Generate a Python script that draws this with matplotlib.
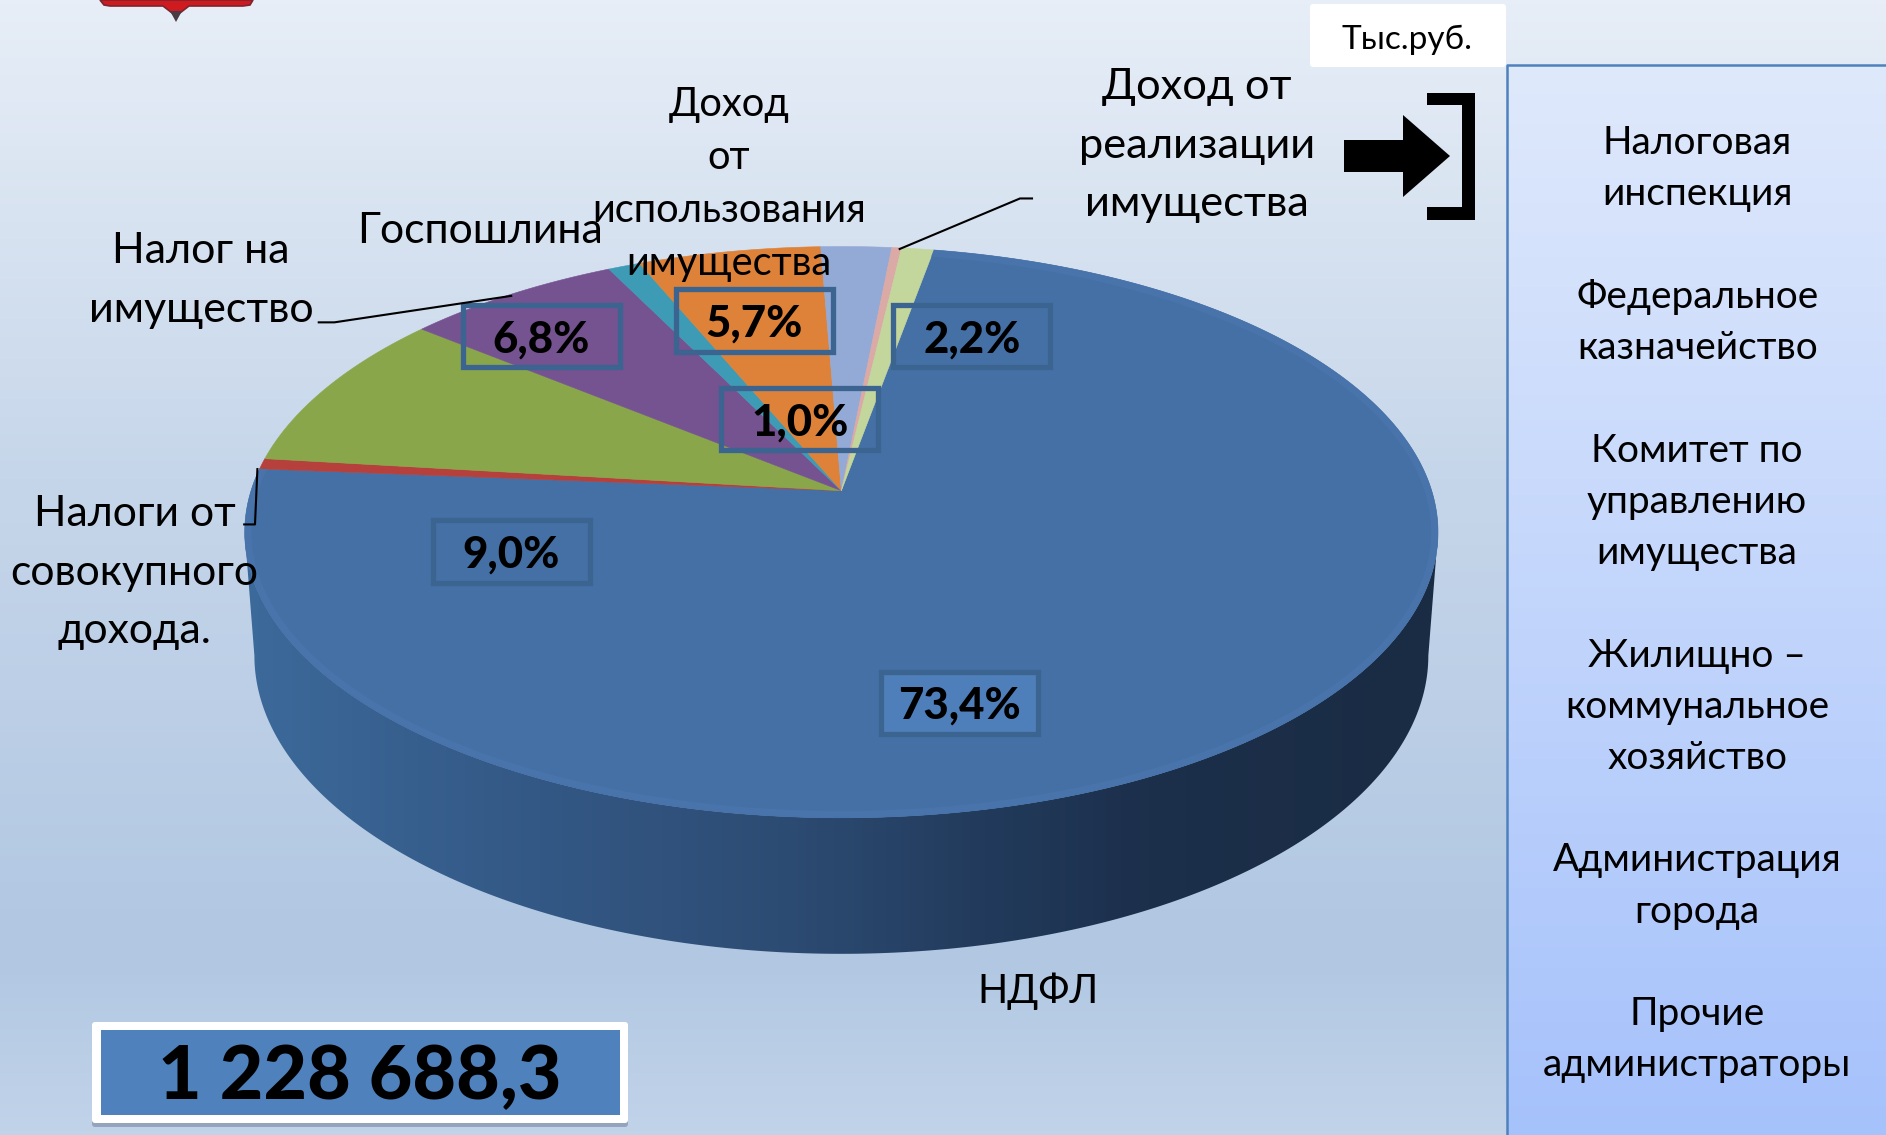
import numpy as np
import matplotlib
matplotlib.use("Agg")
import matplotlib.pyplot as plt
from matplotlib.patches import Polygon, Rectangle, FancyBboxPatch
from matplotlib.colors import LinearSegmentedColormap

plt.rcParams['font.family'] = ['Lato', 'Noto Sans', 'DejaVu Sans']

# -----------------------------------------------
# DATA
# -----------------------------------------------
shares = [73.4, 0.6, 9.0, 6.8, 1.0, 5.7, 2.2, 0.3, 1.0]
colors = ["#4570a5", "#b5403c", "#8aa64a", "#755290", "#3d9bb5", "#dd8238", "#93a9d6", "#dba9a6", "#c3d69b"]

pct_labels = ["73,4%", "2,2%", "1,0%", "5,7%", "6,8%", "9,0%"]
total_label = "1 228 688,3"
unit_label = "Тыс.руб."
admins = ["Налоговая", "инспекция", "",
          "Федеральное", "казначейство", "",
          "Комитет по", "управлению", "имущества", "",
          "Жилищно –", "коммунальное", "хозяйство", "",
          "Администрация", "города", "",
          "Прочие", "администраторы"]

# -----------------------------------------------
# GEOMETRY (pixels of the 1886x1135 picture)
# -----------------------------------------------
W, H = 1886, 1135
S = W / 1568
cx, apex_y, R, A, k = 699.5 * S, 408 * S, 490.8 * S, 232.5 * S, 0.145
start = 10.3


def project(deg):
    t = np.radians(deg)
    x, y = np.sin(t), np.cos(t)
    d = 1 + k * y
    return cx + R * x / d, apex_y - A * y / d


def lines(rows, x, y0, step, size, **kw):
    for i, row in enumerate(rows):
        if row:
            ax.text(x, y0 + i * step, row, ha="center", va="center", fontsize=size, color="black", zorder=6, **kw)


fig = plt.figure(figsize=(W / 100, H / 100), dpi=100)
ax = fig.add_axes([0, 0, 1, 1])

bg = LinearSegmentedColormap.from_list("bg", [(0, "#e7eef7"), (.42, "#c6d6ea"), (.84, "#b1c7e2"), (1, "#c1d3e9")])
ax.imshow(np.linspace(0, 1, 256)[:, None], cmap=bg, extent=[0, W, H, 0], aspect="auto", zorder=0)

# crest at top edge
ax.add_patch(Polygon([(100, 0), (104, 5), (110, 6), (163, 6), (176, 16), (189, 6), (243, 6), (250, 5), (253, 0)],
                     closed=True, fc="#cf1a20", ec="#7a2530", lw=1.2, zorder=1))
ax.add_patch(Polygon([(170, 11), (182, 11), (176, 22)], closed=True, fc="#4a3a44", ec="none", zorder=1))

# side of the pie
lx, ly, lrx, lry = 699.5 * S, 545 * S, 488 * S, 248 * S
a = np.linspace(0, np.pi, 300)
low = np.c_[lx + lrx * np.cos(a), ly + lry * np.sin(a)]
rim = np.array([project(d) for d in np.linspace(0, 360, 721)])
left_i, right_i = rim[:, 0].argmin(), rim[:, 0].argmax()
top = rim[left_i:right_i - 1:-1]
side = Polygon(np.r_[low, top], closed=True, fc="none", ec="none", zorder=1)
ax.add_patch(side)
grad = LinearSegmentedColormap.from_list("side", [(0, "#3c6a9b"), (.2, "#355b89"), (.45, "#2d4c74"),
                                                  (.62, "#223b5c"), (.76, "#1c2f4b"), (1, "#1a2c43")])
im = ax.imshow(np.linspace(0, 1, 256)[None, :], cmap=grad, extent=[240, 1440, 960, 400], aspect="auto", zorder=1)
im.set_clip_path(side)

# slices
angle = start
wedges = []
for v, c in zip(shares, colors):
    da = v * 3.6
    pts = [project(d) for d in np.linspace(angle, angle + da, max(int(da * 3), 4))]
    p = Polygon([(cx, apex_y)] + pts, closed=True, fc=c, ec=c, lw=0.4, zorder=2)
    ax.add_patch(p)
    wedges.append((p, pts))
    angle += da

# lighter band on the near rim of the blue slice
pts = np.array(wedges[0][1])
band, = ax.plot(pts[:, 0], pts[:, 1], color="#4873ab", lw=10, zorder=2.5)
band.set_clip_path(wedges[0][0])

# percent boxes
box_x = [731, 741, 598, 560, 383, 358]
box_y = [557, 252, 321, 239, 252, 431]
for i, (bx, by, lab) in enumerate(zip(box_x, box_y, pct_labels)):
    ax.add_patch(Rectangle((bx * S + 2, by * S + 2), 134 * S - 4, 55 * S - 4, fc="#4f7fbb" if i == 0 else "none",
                           ec="#3b6490", lw=3.8, zorder=4))
    ax.text((bx + 67) * S, (by + 30) * S, lab, ha="center", va="center", fontsize=31.5, fontweight="black", zorder=6)

# leader lines
for xs, ys in [([265, 278, 425], [268, 268, 246]), ([203, 212, 214], [436, 436, 390]), ([858, 848, 748], [165, 165, 207])]:
    ax.plot(np.array(xs) * S, np.array(ys) * S, color="black", lw=1.5, zorder=5)

# category labels
lines(["Доход", "от", "использования", "имущества"], 606 * S, 87 * S, 44 * S, 28.7)
lines(["Доход от", "реализации", "имущества"], 995 * S, 72 * S, 49 * S, 31.2)
lines(["Госпошлина"], 399 * S, 192 * S, 0, 30.8)
lines(["Налог на", "имущество"], 167 * S, 209 * S, 49 * S, 31)
lines(["Налоги от", "совокупного", "дохода."], 112 * S, 427 * S, 49 * S, 30.8)
lines(["НДФЛ"], 863 * S, 824 * S, 0, 28.5)

# arrow and bracket
ax.add_patch(Polygon([(1344, 140), (1403, 140), (1403, 115), (1450, 156), (1403, 197), (1403, 172), (1344, 172)],
                     closed=True, fc="black", ec="none", zorder=5))
ax.add_patch(Polygon([(1427, 93), (1475, 93), (1475, 220), (1427, 220), (1427, 207), (1462, 207), (1462, 105), (1427, 105)],
                     closed=True, fc="black", ec="none", zorder=5))

# unit box and right panel
ax.add_patch(FancyBboxPatch((1312, 6), 192, 59, boxstyle="round,pad=2,rounding_size=3", fc="white", ec="none", zorder=3))
ax.text(1407, 40, unit_label, ha="center", va="center", fontsize=24, zorder=6)

panel = LinearSegmentedColormap.from_list("panel", ["#dfe9fc", "#a6c2fb"])
ax.imshow(np.linspace(0, 1, 256)[:, None], cmap=panel, extent=[1507, W, H, 65], aspect="auto", zorder=3)
ax.plot([1507, 1507, W], [H, 65, 65], color="#4f81bd", lw=1.8, zorder=4)
lines(admins, 1411 * S, 119 * S, 42.6 * S, 28)

# total box
ax.add_patch(FancyBboxPatch((95, 1029), 530, 95, boxstyle="round,pad=3,rounding_size=3", fc="#6f7f98", ec="none", alpha=.55, zorder=2.5))
ax.add_patch(FancyBboxPatch((95, 1025), 530, 95, boxstyle="round,pad=3,rounding_size=3", fc="white", ec="none", zorder=3))
ax.add_patch(Rectangle((101, 1030), 519, 85, fc="#4f81bd", ec="none", zorder=4))
ax.text(360, 1078, total_label, ha="center", va="center", fontsize=54.3, fontweight="black", zorder=6)

ax.set_xlim(0, W)
ax.set_ylim(H, 0)
ax.axis("off")
fig.savefig("out.png", dpi=100)
